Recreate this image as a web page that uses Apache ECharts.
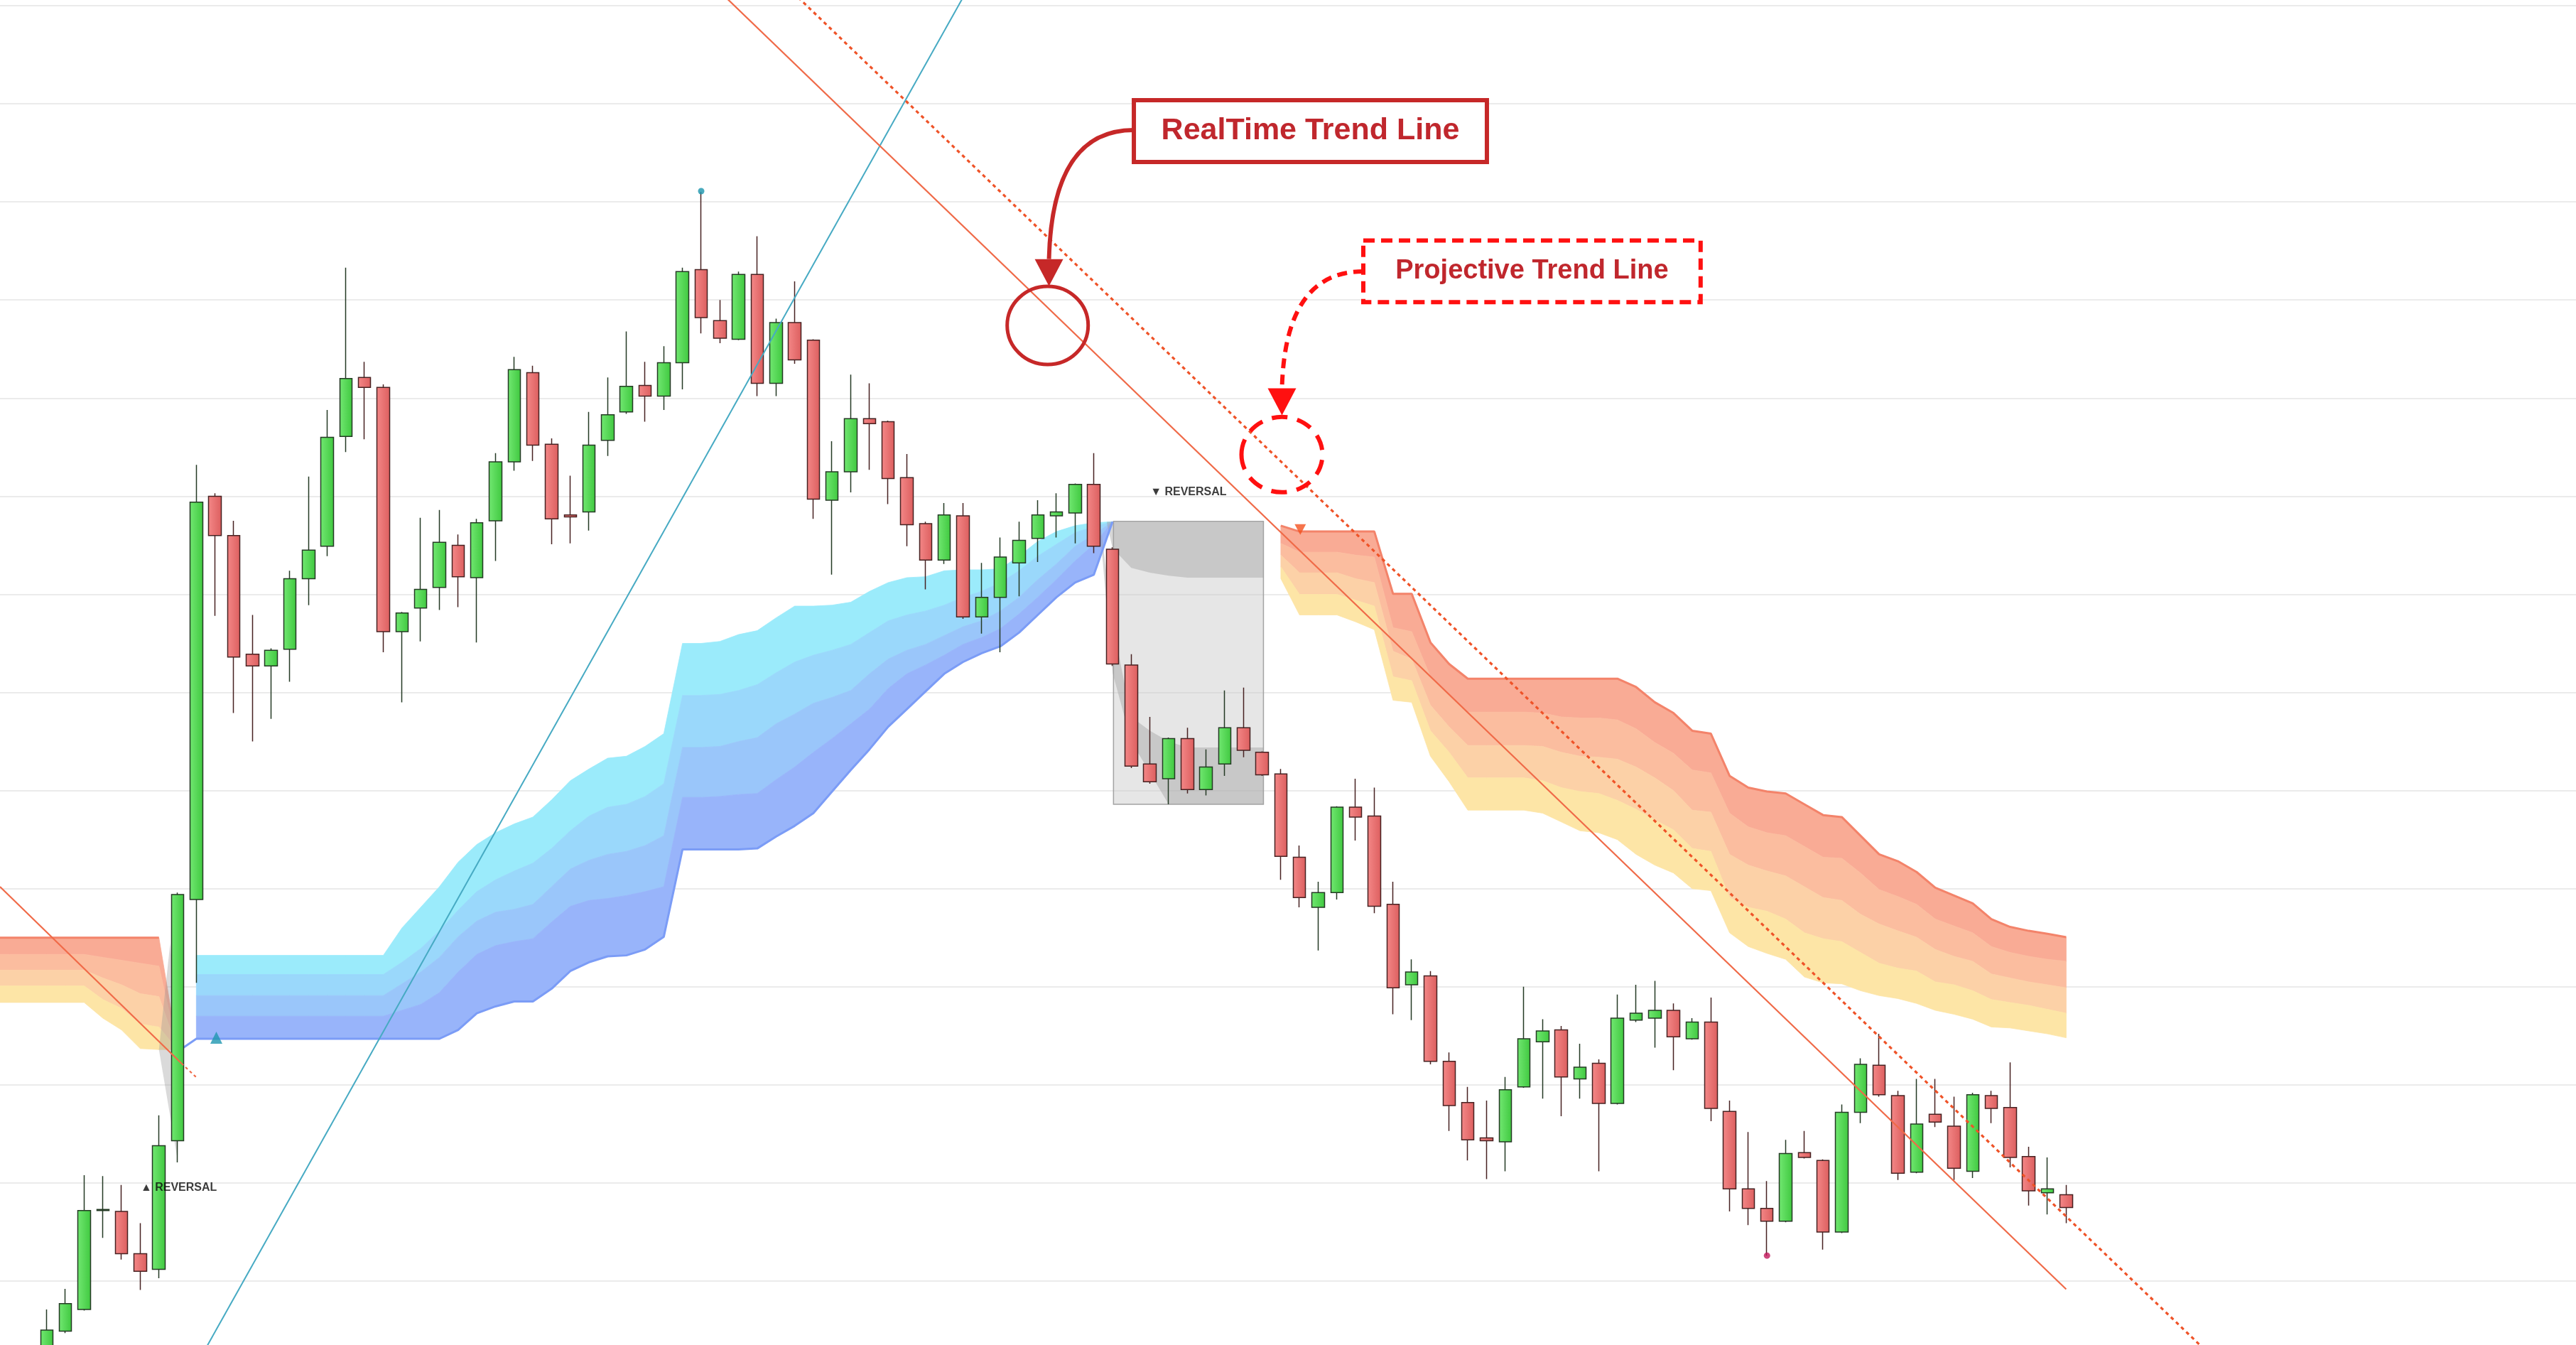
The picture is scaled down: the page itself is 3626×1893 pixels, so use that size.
<!DOCTYPE html>
<html><head><meta charset="utf-8">
<script src="https://cdn.jsdelivr.net/npm/echarts@6/dist/echarts.min.js"></script>
<style>html,body{margin:0;padding:0;background:#fff;overflow:hidden}#chart{width:3626px;height:1893px}</style>
</head><body><div id="chart"></div>
<script>
// ---------------- DATA ----------------
const candleOpen = [92.0,94.9,97.1,107.2,107.1,102.8,101.2,114.3,138.9,180.0,176.0,163.9,162.7,164.4,171.6,174.9,186.1,192.1,191.1,166.2,168.6,170.7,175.0,171.7,177.5,183.5,192.6,185.3,178.1,178.4,185.7,188.6,191.3,190.2,193.6,203.1,197.9,196.0,202.6,191.5,197.7,195.9,179.6,182.5,187.9,187.6,181.9,177.2,173.5,178.0,167.7,169.7,173.2,175.7,178.0,178.3,181.2,174.6,162.8,152.7,151.2,155.3,150.1,152.7,156.4,153.9,151.7,143.2,138.1,139.6,148.3,147.4,138.4,130.2,131.1,122.4,118.2,114.6,114.2,119.8,124.4,125.6,120.6,122.2,118.1,126.6,126.8,127.6,124.7,126.4,117.3,109.4,107.4,106.1,113.1,112.3,105.0,117.2,122.0,118.9,111.1,117.0,115.8,111.2,118.9,117.7,112.7,109.0,108.8];
const candleClose = [95.0,97.7,107.2,107.3,102.8,101.0,113.8,139.4,179.4,176.0,163.6,162.7,164.3,171.6,174.5,186.0,192.0,191.1,166.2,168.1,170.5,175.3,171.8,177.3,183.5,192.9,185.2,177.7,177.9,185.2,188.3,191.2,190.2,193.6,202.9,198.2,196.1,202.6,191.5,197.7,193.9,179.7,182.5,187.9,187.4,181.8,177.1,173.5,178.1,167.7,169.7,173.8,175.5,178.1,178.4,181.2,174.9,162.9,152.5,150.9,155.3,150.1,152.4,156.4,154.1,151.6,143.3,139.1,139.6,148.3,147.3,138.2,129.9,131.5,122.4,117.9,114.4,114.3,119.5,124.7,125.5,120.8,121.8,118.1,126.8,127.3,127.6,124.9,126.4,117.6,109.4,107.4,106.1,113.0,112.6,105.0,117.2,122.1,119.0,111.0,116.0,116.2,111.5,119.0,117.6,112.6,109.2,109.4,107.5];
const candleLow = [91.0,94.7,97.0,104.4,102.2,99.1,100.3,112.1,130.4,167.8,157.9,155.0,157.3,161.1,168.9,173.9,184.5,185.8,164.1,159.0,165.2,168.4,168.7,165.1,173.4,182.6,183.6,175.1,175.2,176.5,184.1,188.4,187.6,188.8,190.9,196.6,195.6,195.9,190.2,190.2,193.5,177.7,172.0,180.4,182.7,179.2,174.9,170.5,173.1,167.5,166.0,164.1,169.8,173.3,175.8,175.2,174.2,162.7,152.3,150.7,148.6,149.7,149.5,151.5,153.4,151.5,140.9,138.1,133.7,138.9,144.9,137.5,127.2,126.6,122.1,115.3,112.3,110.4,111.2,119.7,118.6,116.8,118.6,111.2,118.0,126.4,123.8,121.5,124.6,116.3,107.1,105.7,102.6,106.0,112.5,103.2,104.9,116.1,118.8,110.3,111.0,115.7,110.3,110.5,116.1,111.6,107.7,106.8,105.9];
const candleHigh = [97.1,99.2,110.8,110.7,109.8,105.9,116.9,139.6,183.2,180.3,177.5,167.9,164.5,172.4,182.0,188.8,203.3,193.7,191.4,168.2,177.8,178.6,176.1,177.7,184.4,194.2,193.3,185.9,182.1,188.6,192.1,196.8,193.7,195.3,203.3,211.0,200.0,202.9,206.5,198.1,201.9,196.0,185.6,192.4,191.5,187.7,184.3,177.4,179.3,179.3,173.2,175.8,177.4,179.6,180.3,181.3,184.4,174.8,163.9,157.5,155.4,156.4,154.2,160.2,160.5,154.0,152.2,144.4,140.7,148.4,151.2,150.3,140.7,132.8,131.6,123.3,119.8,118.4,120.8,130.0,126.7,126.0,124.2,122.6,129.2,130.2,130.6,128.3,126.8,128.9,118.4,115.2,110.2,114.4,115.3,112.4,118.0,122.7,125.2,119.4,120.6,120.6,118.8,119.2,119.4,122.3,113.7,112.6,109.8];

// left (bearish) ribbon, candle index -3 .. 7
const leftRibbonStart = -3;
const leftL0 = [135.0,135.0,135.0,135.0,135.0,135.0,135.0,135.0,135.0,135.0,123.6];
const leftL1 = [133.3,133.3,133.3,133.3,133.3,133.3,133.0,132.7,132.4,132.1,123.6];
const leftL2 = [131.7,131.7,131.7,131.7,131.7,131.7,130.9,130.2,129.3,129.0,123.6];
const leftL3 = [130.1,130.1,130.1,130.1,130.1,130.1,128.7,127.8,126.2,125.9,123.6];
const leftL4 = [128.4,128.4,128.4,128.4,128.4,128.4,126.8,125.6,123.7,123.6,123.6];

// bullish ribbon, candle index 8 .. 57
const blueRibbonStart = 8;
const blueL0 = [133.2,133.2,133.2,133.2,133.2,133.2,133.2,133.2,133.2,133.2,133.2,136.0,138.1,140.2,142.7,144.5,145.7,146.6,147.3,149.05,151.0,152.2,153.3,153.5,154.5,155.8,165.0,165.0,165.2,165.9,166.3,167.6,168.8,168.8,168.9,169.2,170.3,171.2,171.7,171.8,172.4,172.5,172.5,172.6,173.9,175.4,176.4,177.0,177.3,177.4];
const blueL1 = [131.25,131.25,131.25,131.25,131.25,131.25,131.25,131.25,131.25,131.25,131.25,132.5,133.9,135.7,137.8,139.7,140.9,141.8,142.6,144.1,145.9,147.4,148.3,148.6,149.4,150.7,159.7,159.7,159.8,160.2,160.8,162.0,163.1,163.8,164.3,164.9,166.1,167.3,167.9,168.3,168.9,169.7,170.3,171.2,172.4,173.9,175.1,176.3,176.9,177.4];
const blueL2 = [129.1,129.1,129.1,129.1,129.1,129.1,129.1,129.1,129.1,129.1,129.1,130.3,131.5,133.0,135.1,136.7,137.6,137.9,138.4,140.2,142.0,142.9,143.5,143.8,144.4,145.4,154.4,154.4,154.5,155.0,155.4,156.8,157.8,158.9,159.5,160.2,161.9,163.4,164.3,164.9,165.8,166.7,167.3,168.3,169.7,171.5,173.1,174.9,176.1,177.4];
const blueL3 = [127.0,127.0,127.0,127.0,127.0,127.0,127.0,127.0,127.0,127.0,127.0,127.6,128.2,129.4,131.5,133.3,134.2,134.6,134.9,136.6,138.2,138.8,139.0,139.3,139.7,140.2,149.3,149.3,149.4,149.6,149.7,151.1,152.4,153.9,155.3,156.8,158.3,160.4,161.9,162.8,163.8,164.9,165.6,166.5,168.0,169.7,171.5,173.4,175.1,177.4];
const blueL4 = [124.7,124.7,124.7,124.7,124.7,124.7,124.7,124.7,124.7,124.7,124.7,124.7,124.7,124.7,125.6,127.3,128.0,128.5,128.5,129.8,131.6,132.5,133.1,133.2,133.8,135.1,144.0,144.0,144.0,144.0,144.1,145.3,146.4,147.7,149.9,152.1,154.2,156.5,158.3,160.1,161.9,163.1,164.0,164.7,166.1,167.9,169.7,171.2,172.0,177.4];
const blueEdgeLead = [7, 123.4];

// right (bearish) ribbon, candle index 66 .. 108
const redRibbonStart = 66;
const redL0 = [177.0,176.4,176.4,176.4,176.4,176.4,170.05,170.05,165.1,162.9,161.4,161.4,161.4,161.4,161.4,161.4,161.4,161.4,161.4,160.55,159.0,157.9,156.1,155.8,151.5,150.3,149.9,149.7,148.6,147.5,147.3,145.4,143.5,142.8,141.7,140.1,139.3,138.5,136.9,136.1,135.7,135.4,135.05];
const redL1 = [175.2,174.3,174.3,174.3,174.0,173.8,166.6,166.2,161.6,159.8,158.0,158.0,158.0,158.0,157.9,157.5,157.4,157.4,157.2,156.3,154.9,153.8,152.1,151.8,147.7,146.3,145.7,145.4,144.3,143.2,143.1,141.6,139.9,139.2,138.4,136.9,136.2,135.5,134.1,133.5,133.1,132.8,132.6];
const redL2 = [174.0,172.2,172.2,172.2,171.6,171.2,164.2,163.4,158.7,156.5,154.6,154.6,154.6,154.6,154.5,153.9,153.5,153.4,153.2,152.4,151.3,150.0,148.0,147.8,143.5,142.4,141.8,141.3,140.2,139.1,138.8,137.4,136.4,135.7,135.05,133.8,133.1,132.6,131.3,130.9,130.5,130.2,129.9];
const redL3 = [172.8,170.0,170.0,170.0,169.4,168.8,161.6,161.2,156.1,153.9,151.3,151.3,151.3,151.3,151.0,150.3,149.9,149.7,149.0,148.1,147.0,146.0,144.1,143.8,139.1,138.1,137.7,136.9,135.5,134.9,134.6,133.5,132.4,131.9,131.6,130.5,130.2,129.6,128.7,128.4,128.1,127.7,127.3];
const redL4 = [171.6,167.9,167.9,167.9,167.2,166.4,159.2,159.0,153.5,150.9,148.0,148.0,148.0,148.0,147.7,146.8,145.9,145.7,145.0,143.5,142.4,141.6,140.0,139.8,135.5,134.1,133.4,132.8,131.0,130.4,130.3,129.6,129.1,128.8,128.3,127.6,127.2,126.7,125.9,125.8,125.5,125.2,124.8];

// grey reversal zone
const greyBoxX = [57.05, 65.07];
const greyBoxP = [148.6, 177.44];
const greyUpperX = [56.7, 57, 58, 59, 60, 61, 65.07];
const greyUpperTop = [177.4, 177.4, 177.4, 177.4, 177.4, 177.4, 177.4];
const greyUpperBottom = [177.2, 174.7, 172.7, 172.2, 171.9, 171.7, 171.7];
const greyLowerX = [56.4, 57, 58, 59, 60, 61, 65.07];
const greyLowerTop = [176.5, 167.0, 157.5, 156.1, 155.0, 154.4, 154.4];
const greyLowerBottom = [175.0, 162.0, 155.0, 151.8, 148.6, 148.6, 148.6];
const greyDiamond = [[6.0, 123.6], [6.6, 134.4], [7.1, 123.8], [7.0, 112.3]];

// trend lines (x in candle index units)
const tealLine = [[5, 81.23], [52, 241.03]];
const realtimeLine = [[34, 235.1], [108, 99.17]];
const projectiveLine = [[38, 234.85], [120, 84.6]];
const leftTrendSolid = [[-2.5, 140.2], [7.2, 122.2]];
const leftTrendDashed = [[7.2, 122.2], [8.0, 120.77]];

// markers
const reversalUp = [5.0, 109.5];
const reversalDown = [59.0, 180.4];
const bullTriangle = [9.07, 124.8];
const bearTriangle = [67.04, 176.6];
const highDot = [35, 211.1];
const lowDot = [92, 102.6];

// annotation anchors (data units)
const rtBox = [[58.14, 220.37], [77.02, 214.07]];
const ptBox = [[70.41, 206.06], [88.45, 199.78]];
const rtCircle = [53.53, 197.41];
const ptCircle = [66.06, 184.24];
const rtArrow = [[58.14, 217.33], [53.6, 201.42]];
const ptArrow = [[70.41, 202.91], [66.06, 188.25]];

const categories = [];
for (let k = -2; k < 136; k++) categories.push(String(k));

// ---------------- BUILD ----------------
const shapes = [];
function addLayered(start, layers, colors) {
  for (let k = 0; k < colors.length; k++) {
    const top = layers[k], bot = layers[k + 1], pts = [];
    for (let j = 0; j < top.length; j++) pts.push([start + j, top[j]]);
    for (let j = bot.length - 1; j >= 0; j--) pts.push([start + j, bot[j]]);
    shapes.push({ pts, fill: colors[k] });
  }
}
function addBand(xs, top, bot, fill, stroke, lw) {
  const pts = [];
  for (let j = 0; j < xs.length; j++) pts.push([xs[j], top[j]]);
  for (let j = xs.length - 1; j >= 0; j--) pts.push([xs[j], bot[j]]);
  shapes.push({ pts, fill, stroke, lw });
}
const redColors = ['#f9ab95', '#fbbd9f', '#fcd1a7', '#fde5a6'];
const blueColors = ['#9bebfb', '#9ad8fb', '#9ac6fa', '#98b4fa'];
addLayered(leftRibbonStart, [leftL0, leftL1, leftL2, leftL3, leftL4], redColors);
addLayered(blueRibbonStart, [blueL0, blueL1, blueL2, blueL3, blueL4], blueColors);
addLayered(redRibbonStart, [redL0, redL1, redL2, redL3, redL4], redColors);
shapes.push({ pts: greyDiamond, fill: 'rgba(150,150,150,0.35)', stroke: 'none', lw: 0 });
addBand(greyBoxX, [greyBoxP[1], greyBoxP[1]], [greyBoxP[0], greyBoxP[0]], 'rgba(200,200,200,0.45)', '#a3a3a3', 1.5);
addBand(greyUpperX, greyUpperTop, greyUpperBottom, 'rgba(160,160,160,0.42)', 'none', 0);
addBand(greyLowerX, greyLowerTop, greyLowerBottom, 'rgba(160,160,160,0.42)', 'none', 0);

const zip = (start, arr) => arr.map((v, j) => [start + j, v]);

const greenGrad = { type: 'linear', x: 0, y: 0, x2: 1, y2: 0, colorStops: [{ offset: 0, color: '#72e872' }, { offset: 1, color: '#3fc83f' }] };
const redGrad = { type: 'linear', x: 0, y: 0, x2: 1, y2: 0, colorStops: [{ offset: 0, color: '#f48888' }, { offset: 1, color: '#dc5e5e' }] };

const chart = echarts.init(document.getElementById('chart'), null, { renderer: 'canvas', width: 3626, height: 1893 });

const W = 138 * 26.32;
const H = (230.58 - 90) * 13.808;

chart.setOption({
  animation: false,
  backgroundColor: '#ffffff',
  grid: { left: 0, top: 0, width: W, height: H, containLabel: false, outerBoundsMode: 'none' },
  xAxis: [
    { type: 'category', data: categories, boundaryGap: true, show: true, axisLine: { show: false }, axisTick: { show: false }, axisLabel: { show: false }, splitLine: { show: false } },
    { type: 'value', min: -2.5, max: 135.5, show: false, splitLine: { show: false } }
  ],
  yAxis: [
    { type: 'value', min: 90, max: 230.58, interval: 10, axisLine: { show: false }, axisTick: { show: false }, axisLabel: { show: false },
      splitLine: { show: true, showMaxLine: false, showMinLine: false, lineStyle: { color: '#ebebeb', width: 2 } } }
  ],
  series: [
    {
      id: 'ribbons', type: 'custom', xAxisIndex: 1, yAxisIndex: 0, z: 1, silent: true, clip: true,
      data: shapes.map(s => [s.pts[1][0], s.pts[1][1]]),
      renderItem: (params, api) => {
        const s = shapes[params.dataIndex];
        return {
          type: 'polygon',
          shape: { points: s.pts.map(p => api.coord(p)) },
          style: { fill: s.fill, stroke: s.stroke === undefined ? s.fill : s.stroke, lineWidth: s.lw === undefined ? 0.8 : s.lw }
        };
      }
    },
    { type: 'line', xAxisIndex: 1, z: 2, symbol: 'none', silent: true, data: zip(leftRibbonStart, leftL0.slice(0, 10)), lineStyle: { color: '#f3836a', width: 3 } },
    { type: 'line', xAxisIndex: 1, z: 2, symbol: 'none', silent: true, data: zip(redRibbonStart, redL0), lineStyle: { color: '#f3836a', width: 3 } },
    { type: 'line', xAxisIndex: 1, z: 2, symbol: 'none', silent: true, data: [blueEdgeLead].concat(zip(blueRibbonStart, blueL4)), lineStyle: { color: '#7b9cf6', width: 3 } },
    {
      type: 'candlestick', xAxisIndex: 0, yAxisIndex: 0, z: 3, barWidth: 18,
      encode: { x: 0, y: [1, 2, 3, 4] },
      data: candleOpen.map((o, i) => [i + 2, o, candleClose[i], candleLow[i], candleHigh[i]]),
      itemStyle: { color: greenGrad, color0: redGrad, borderColor: '#243a24', borderColor0: '#472222', borderWidth: 1.5 }
    },
    { id: 'teal', type: 'line', xAxisIndex: 1, z: 4, symbol: 'none', silent: true, data: tealLine, lineStyle: { color: '#46aac3', width: 2 } },
    { id: 'rt', type: 'line', xAxisIndex: 1, z: 4, symbol: 'none', silent: true, data: realtimeLine, lineStyle: { color: '#f06a48', width: 2.2 } },
    { type: 'line', xAxisIndex: 1, z: 4, symbol: 'none', silent: true, data: projectiveLine, lineStyle: { color: '#ef5328', width: 3.2, type: [5, 5] } },
    { type: 'line', xAxisIndex: 1, z: 4, symbol: 'none', silent: true, data: leftTrendSolid, lineStyle: { color: '#f06a48', width: 2.2 } },
    { type: 'line', xAxisIndex: 1, z: 4, symbol: 'none', silent: true, data: leftTrendDashed, lineStyle: { color: '#f06a48', width: 2.2, type: [4, 4] } },
    { type: 'scatter', xAxisIndex: 1, z: 5, silent: true, symbol: 'triangle', symbolSize: [17, 17], data: [bullTriangle], itemStyle: { color: '#1f97b0' } },
    { type: 'scatter', xAxisIndex: 1, z: 5, silent: true, symbol: 'triangle', symbolRotate: 180, symbolSize: [16, 15], data: [bearTriangle], itemStyle: { color: '#f4511e' } },
    { type: 'scatter', xAxisIndex: 1, z: 5, silent: true, symbol: 'circle', symbolSize: 9, data: [highDot], itemStyle: { color: '#1b95ad' } },
    { type: 'scatter', xAxisIndex: 1, z: 5, silent: true, symbol: 'circle', symbolSize: 9, data: [lowDot], itemStyle: { color: '#c2185b' } },
    {
      type: 'scatter', xAxisIndex: 1, z: 6, silent: true, symbol: 'circle', symbolSize: 1,
      itemStyle: { color: 'rgba(0,0,0,0)' },
      data: [
        { value: reversalUp, label: { formatter: '▲ REVERSAL' } },
        { value: reversalDown, label: { formatter: '▼ REVERSAL' } }
      ],
      label: { show: true, position: 'right', distance: 0, color: '#0a0a0a', fontWeight: 'bold', fontSize: 16, fontFamily: '"Liberation Sans", Arial, sans-serif' }
    }
  ]
});

// ---------------- ANNOTATIONS ----------------
const px = p => chart.convertToPixel({ seriesId: 'rt' }, p);
const darkRed = '#c62828', textRed = '#c0272d', brightRed = '#ff1010';
function arrowParts(a, b, color, dash) {
  const S = px(a), T = px(b);
  const baseY = T[1] - 38;
  const dx = S[0] - T[0];
  const curve = {
    type: 'bezierCurve', z: 100, silent: true,
    shape: { x1: S[0], y1: S[1], cpx1: S[0] - 0.56 * dx, cpy1: S[1], cpx2: T[0] + 0.03 * dx, cpy2: S[1] + 0.25 * (baseY - S[1]), x2: T[0], y2: baseY },
    style: { stroke: color, lineWidth: 6, fill: null, lineDash: dash || null }
  };
  const head = { type: 'polygon', z: 101, silent: true, shape: { points: [[T[0] - 20, baseY], [T[0] + 20, baseY], [T[0], T[1]]] }, style: { fill: color } };
  return [curve, head];
}
function boxParts(box, label, stroke, dash, fontSize) {
  const A = px(box[0]), B = px(box[1]);
  return [
    { type: 'rect', z: 100, silent: true, shape: { x: A[0], y: A[1], width: B[0] - A[0], height: B[1] - A[1] }, style: { fill: '#ffffff', stroke, lineWidth: 6, lineDash: dash || null } },
    { type: 'text', z: 101, silent: true, x: (A[0] + B[0]) / 2, y: (A[1] + B[1]) / 2,
      style: { text: label, font: 'bold ' + fontSize + 'px "Liberation Sans", Arial, sans-serif', fill: textRed, textAlign: 'center', textVerticalAlign: 'middle', align: 'center', verticalAlign: 'middle' } }
  ];
}
const c1 = px(rtCircle), c2 = px(ptCircle);
const graphics = []
  .concat(boxParts(rtBox, 'RealTime Trend Line', darkRed, null, 43))
  .concat(boxParts(ptBox, 'Projective Trend Line', brightRed, [16, 9], 38))
  .concat(arrowParts(rtArrow[0], rtArrow[1], darkRed, null))
  .concat(arrowParts(ptArrow[0], ptArrow[1], brightRed, [14, 9]))
  .concat([
    { type: 'ellipse', z: 100, silent: true, shape: { cx: c1[0], cy: c1[1], rx: 57, ry: 55 }, style: { fill: null, stroke: darkRed, lineWidth: 5 } },
    { type: 'ellipse', z: 100, silent: true, shape: { cx: c2[0], cy: c2[1], rx: 57, ry: 53 }, style: { fill: null, stroke: brightRed, lineWidth: 6, lineDash: [22, 14] } }
  ]);
chart.setOption({ graphic: graphics });
</script>
</body></html>
